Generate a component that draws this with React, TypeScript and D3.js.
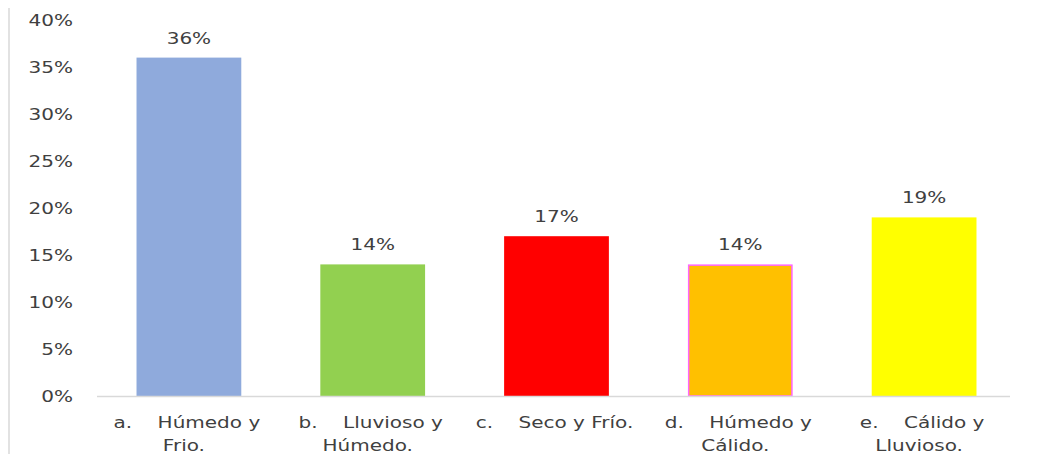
import React from "react";
import * as d3 from "d3";

const categories = ["a.", "b.", "c.", "d.", "e."];
const labelLine1 = ["Húmedo y", "Lluvioso y", "Seco y Frío.", "Húmedo y", "Cálido y"];
const labelLine2 = ["Frio.", "Húmedo.", "", "Cálido.", "Lluvioso."];
const values = [0.36, 0.14, 0.17, 0.14, 0.19];
const yTicks = [0, 0.05, 0.1, 0.15, 0.2, 0.25, 0.3, 0.35, 0.4];
const fills = ["#8faadc", "#92d050", "#ff0000", "#ffc000", "#ffff00"];
const strokes = ["none", "none", "none", "#ff66ff", "none"];

const W = 1038;
const H = 454;
const FONT = "DejaVu Sans, sans-serif";
const SX = 1.25;
const TEXT = "#404040";

export default function App() {
  const x = d3.scaleBand<string>().domain(categories).range([97, 1016]).paddingInner(0.43).paddingOuter(0.215);
  const y = d3.scaleLinear().domain([0, 0.4]).range([396, 20]);
  const pct = d3.format(".0%");

  return (
    <svg width={W} height={H} style={{ position: "absolute", left: 0, top: 0, display: "block" }} fontFamily={FONT} fontSize={16}>
      <rect x={0} y={0} width={W} height={H} fill="#ffffff" />
      <line x1={9} x2={9} y1={8} y2={H} stroke="#d9d9d9" strokeWidth={1.5} />
      {yTicks.map((t) => (
        <text key={t} transform={`translate(73,${y(t) + 6}) scale(${SX},1)`} textAnchor="end" fill={TEXT}>
          {pct(t)}
        </text>
      ))}
      {categories.map((c, i) => {
        const bx = x(c)!;
        const bw = x.bandwidth();
        const sw = strokes[i] === "none" ? 0 : 1.5;
        return (
          <g key={c}>
            <rect
              x={bx + sw / 2}
              y={y(values[i]) + sw / 2}
              width={bw - sw}
              height={y(0) - y(values[i]) - sw / 2}
              fill={fills[i]}
              stroke={strokes[i]}
              strokeWidth={sw}
            />
            <text transform={`translate(${bx + bw / 2},${y(values[i]) - 14}) scale(${SX},1)`} textAnchor="middle" fill={TEXT}>
              {pct(values[i])}
            </text>
          </g>
        );
      })}
      <line x1={97} x2={1010} y1={396.5} y2={396.5} stroke="#d9d9d9" strokeWidth={1.5} />
      {categories.map((c, i) => {
        const cx = x(c)! + x.bandwidth() / 2;
        return (
          <g key={"l" + c}>
            <text transform={`translate(${cx - 2},428) scale(${SX},1)`} textAnchor="middle" fill={TEXT} style={{ whiteSpace: "pre" }}>
              {`${c}    ${labelLine1[i]}`}
            </text>
            {labelLine2[i] && (
              <text transform={`translate(${cx - 5},451) scale(${SX},1)`} textAnchor="middle" fill={TEXT}>
                {labelLine2[i]}
              </text>
            )}
          </g>
        );
      })}
    </svg>
  );
}
